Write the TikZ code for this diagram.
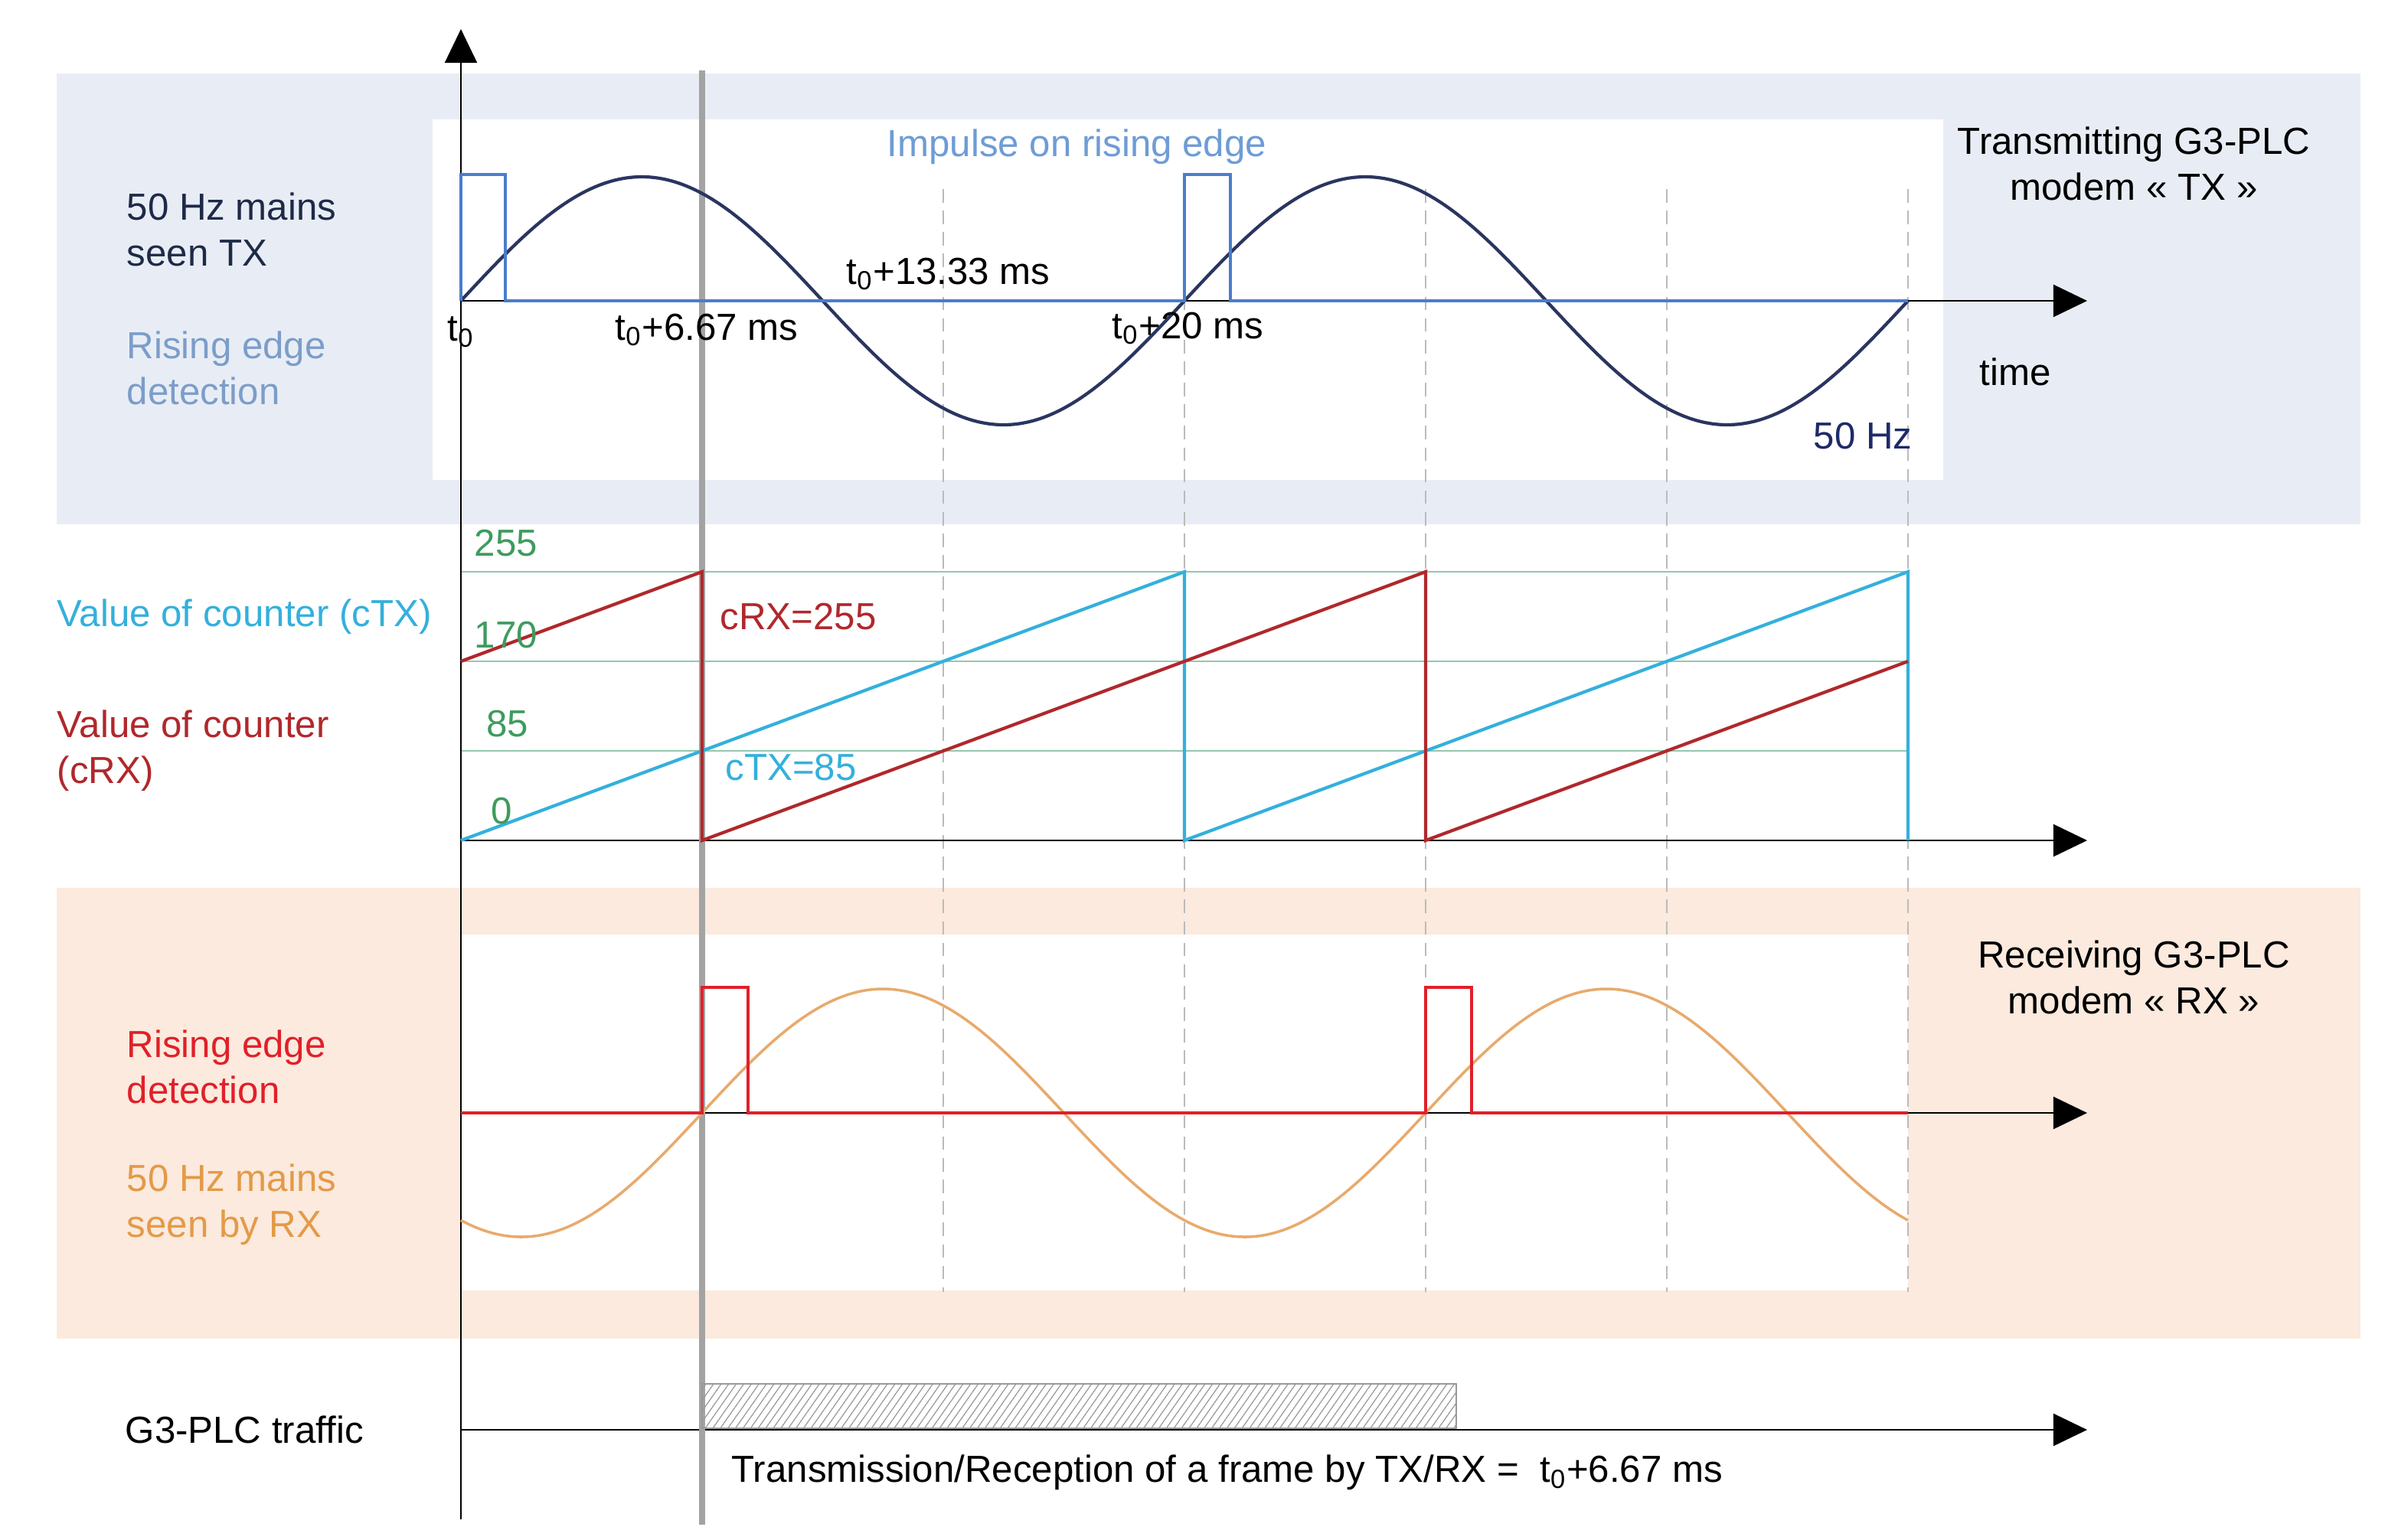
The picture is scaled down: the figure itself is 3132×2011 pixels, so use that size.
\documentclass[tikz,border=0pt]{standalone}
\usepackage{fontspec}
\setmainfont{Liberation Sans}
\usetikzlibrary{arrows.meta,patterns.meta}

\definecolor{bandblue}{HTML}{E8EDF5}
\definecolor{bandpeach}{HTML}{FBEADD}
\definecolor{navy}{HTML}{2A3560}
\definecolor{pulseblue}{HTML}{4A7DCB}
\definecolor{impblue}{HTML}{6E9CD6}
\definecolor{risetx}{HTML}{7C9DC9}
\definecolor{txtdark}{HTML}{1E2A48}
\definecolor{hznavy}{HTML}{1E2A68}
\definecolor{cyanc}{HTML}{34B0DC}
\definecolor{darkred}{HTML}{B0282C}
\definecolor{greent}{HTML}{3E9B5E}
\definecolor{greenl}{HTML}{94C8AE}
\definecolor{rxred}{HTML}{E0202A}
\definecolor{orangec}{HTML}{E8AA6C}
\definecolor{orangetxt}{HTML}{E39A48}
\definecolor{grayline}{HTML}{A3A3A3}
\definecolor{dashgray}{HTML}{BBBBBB}

\begin{document}
\begin{tikzpicture}[x=0.01cm,y=-0.01cm,
  lbl/.style={font=\fontsize{14}{17}\selectfont, inner sep=0pt, align=left},
  lblc/.style={font=\fontsize{14}{17}\selectfont, inner sep=0pt, align=center},
  axisarrow/.style={line width=0.6pt, black, -{Triangle[length=0.44cm,width=0.42cm]}},
  dashv/.style={dashgray, line width=0.45pt, dash pattern=on 5pt off 3pt},
  levelline/.style={greenl, line width=0.6pt},
  ramp/.style={line width=1.2pt, line join=miter}
]
\useasboundingbox (0,0) rectangle (3132,2011);

% bands
\fill[bandblue] (74,96) rectangle (3083,685);
\fill[white] (565,156) rectangle (2538,627);
\fill[bandpeach] (74,1160) rectangle (3083,1749);
\fill[white] (602,1221) rectangle (2492,1686);

% dashed time marks
\foreach \xx in {1232,1547,1862,2177,2492}
  \draw[dashv] (\xx,247) -- (\xx,1688);

% counter levels
\draw[levelline] (602,747) -- (2492,747);
\draw[levelline] (602,864) -- (2492,864);
\draw[levelline] (602,981) -- (2492,981);

% axes
\coordinate (vbot) at (602,1985);
\coordinate (vtop) at (602,38);
\coordinate (ax1s) at (602,393);   \coordinate (ax1e) at (2726,393);
\coordinate (ax2s) at (602,1098);  \coordinate (ax2e) at (2726,1098);
\coordinate (ax3s) at (602,1454);  \coordinate (ax3e) at (2726,1454);
\coordinate (ax4s) at (602,1868);  \coordinate (ax4e) at (2726,1868);
\draw[axisarrow] (vbot) -- (vtop);
\draw[axisarrow] (ax1s) -- (ax1e);
\draw[axisarrow] (ax2s) -- (ax2e);
\draw[axisarrow] (ax3s) -- (ax3e);
\draw[axisarrow] (ax4s) -- (ax4e);

% gray marker line at t0+6.67 ms
\coordinate (gtop) at (917,92);
\coordinate (gbot) at (917,1992);
\draw[grayline, line width=2.5pt] (gtop) -- (gbot);

% TX mains
\draw[navy, line width=1.2pt] plot[domain=602:2492, samples=200, smooth]
  (\x, {393-162*sin(0.380952*(\x-602))});
% TX pulses
\draw[pulseblue, line width=1.1pt, line join=miter]
  (602,393) -- (602,228) -- (660,228) -- (660,393) -- (1547,393) -- (1547,228)
  -- (1607,228) -- (1607,393) -- (2492,393);

% counters
\draw[ramp, cyanc] (602,1098) -- (1547,747) -- (1547,1098) -- (2492,747) -- (2492,1098);
\draw[ramp, darkred] (602,864) -- (917,747) -- (917,1098) -- (1862,747) -- (1862,1098) -- (2492,864);

% RX mains
\draw[orangec, line width=1pt] plot[domain=602:2492, samples=200, smooth]
  (\x, {1454-162*sin(0.380952*(\x-917))});
% RX pulses
\draw[rxred, line width=1.3pt, line join=miter]
  (602,1454) -- (917,1454) -- (917,1290) -- (977,1290) -- (977,1454) -- (1862,1454)
  -- (1862,1290) -- (1922,1290) -- (1922,1454) -- (2492,1454);

% traffic frame
\draw[gray!80, line width=0.8pt, pattern={Lines[angle=55,distance=2.3pt,line width=0.35pt]},
  pattern color=gray!80] (917,1808) rectangle (1902,1866);

% ---- labels ----
\node[lbl, anchor=west, text=txtdark] (mainsTX) at (165,300) {50 Hz mains\\seen TX};
\node[lbl, anchor=west, text=risetx] (riseTX) at (165,481) {Rising edge\\detection};
\node[lbl, anchor=west, text=impblue] (impulse) at (1158,192) {Impulse on rising edge};
\node[lblc, text=black] (txmodem) at (2787,214) {Transmitting G3-PLC\\modem «~TX~»};
\node[lbl, anchor=north, text=black] (t0) at (602,413) {t\textsubscript{0}};
\node[lbl, anchor=west, text=black] (t667) at (803,431) {t\textsubscript{0}+6.67 ms};
\node[lbl, anchor=west, text=black] (t1333) at (1105,358) {t\textsubscript{0}+13.33 ms};
\node[lbl, anchor=west, text=black] (t20) at (1452,429) {t\textsubscript{0}+20 ms};
\node[lbl, anchor=east, text=hznavy] (hz) at (2498,570) {50 Hz};
\node[lbl, anchor=west, text=black] (time) at (2585,486) {time};

\node[lbl, anchor=west, text=cyanc] (vctx) at (74,806) {Value of counter (cTX)};
\node[lbl, anchor=west, text=darkred] (vcrx) at (74,981) {Value of counter\\(cRX)};
\node[lbl, text=greent] (l255) at (661,710) {255};
\node[lbl, text=greent] (l170) at (661,830) {170};
\node[lbl, text=greent] (l85) at (663,946) {85};
\node[lbl, text=greent] (l0) at (655,1060) {0};
\node[lbl, anchor=west, text=darkred] (crx) at (940,806) {cRX=255};
\node[lbl, anchor=west, text=cyanc] (ctx) at (947,1003) {cTX=85};

\node[lbl, anchor=west, text=rxred] (riseRX) at (165,1394) {Rising edge\\detection};
\node[lbl, anchor=west, text=orangetxt] (mainsRX) at (165,1574) {50 Hz mains\\seen by RX};
\node[lblc, text=black] (rxmodem) at (2787,1277) {Receiving G3-PLC\\modem «~RX~»};

\node[lbl, anchor=west, text=black] (traffic) at (163,1868) {G3-PLC traffic};
\node[lbl, anchor=west, text=black] (frame) at (955,1924) {Transmission/Reception of a frame by TX/RX =~ t\textsubscript{0}+6.67 ms};
\end{tikzpicture}
\end{document}
